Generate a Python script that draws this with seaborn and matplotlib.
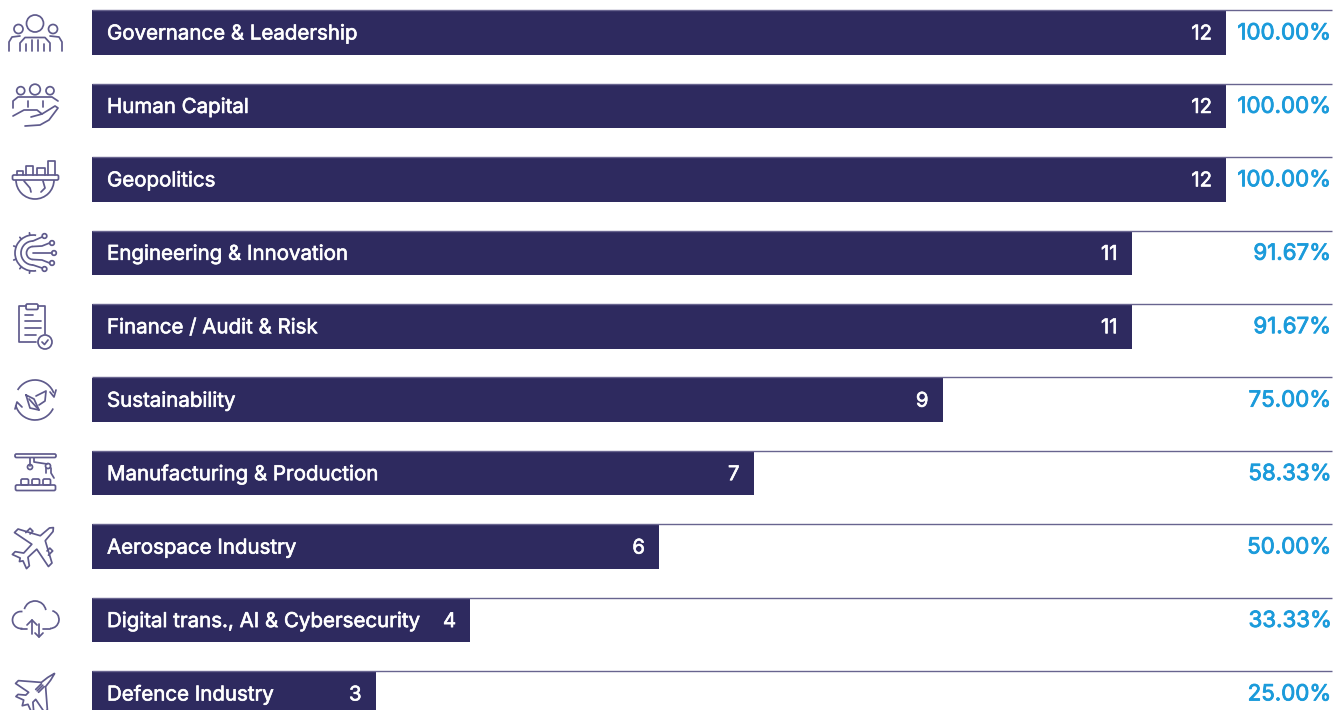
import numpy as np
import pandas as pd
import matplotlib
matplotlib.use("Agg")
import matplotlib.pyplot as plt
import matplotlib.patheffects as pe
from matplotlib.patches import Arc, Circle, FancyBboxPatch, Polygon
import seaborn as sns

categories = [
    "Governance & Leadership", "Human Capital", "Geopolitics",
    "Engineering & Innovation", "Finance / Audit & Risk", "Sustainability",
    "Manufacturing & Production", "Aerospace Industry",
    "Digital trans., AI & Cybersecurity", "Defence Industry",
]
counts = [12, 12, 12, 11, 11, 9, 7, 6, 4, 3]
shares = ["100.00%", "100.00%", "100.00%", "91.67%", "91.67%",
          "75.00%", "58.33%", "50.00%", "33.33%", "25.00%"]

NAVY = "#2e2a5f"
RULE = "#68648f"
BLUE = "#1b9bdb"
ICON = "#5f5b8c"

W, H = 1333, 710
LEFT, UNIT, FIRST, PITCH = 92.0, 94.5, 32.5, 73.45

sns.set_theme(style="white")
plt.rcParams["font.family"] = ["Inter", "DejaVu Sans"]

fig = plt.figure(figsize=(W / 100, H / 100), dpi=100, facecolor="white")
ax = fig.add_axes([LEFT / W, 0, (W - LEFT) / W, 1])

frame = pd.DataFrame({"category": categories, "count": counts})
sns.barplot(data=frame, y="category", x="count", color=NAVY, saturation=1,
            width=44.5 / PITCH, orient="h", linewidth=0, ax=ax)
ax.set_xlim(0, (W - LEFT) / UNIT)
ax.set_ylim((H - FIRST) / PITCH, -FIRST / PITCH)
ax.axis("off")

half = 22.3 / PITCH
heavy_white = [pe.withStroke(linewidth=0.45, foreground="white")]
heavy_blue = [pe.withStroke(linewidth=0.6, foreground=BLUE)]
for i, (name, n, share) in enumerate(zip(categories, counts, shares)):
    ax.plot([0, 1240 / UNIT], [i - half, i - half], color=RULE, lw=1.0,
            solid_capstyle="butt", zorder=4)
    ax.text(15 / UNIT, i + 0.027, name, color="white", fontsize=14.75,
            va="center", ha="left", zorder=5, path_effects=heavy_white)
    ax.text(n - 14 / UNIT, i + 0.027, str(n), color="white", fontsize=14.6,
            va="center", ha="right", zorder=5, path_effects=heavy_white)
    ax.text(1239.4 / UNIT, i + 0.012, share, color=BLUE, fontsize=16.05,
            va="center", ha="right", zorder=5, path_effects=heavy_blue)

# Outline pictograms to the left of the bars, on a pixel-scaled overlay.
ov = fig.add_axes([0, 0, 1, 1], facecolor="none")
ov.set_xlim(0, W)
ov.set_ylim(H, 0)
ov.axis("off")
LW = 1.25


def line(*pts):
    xs, ys = zip(*pts)
    ov.plot(xs, ys, color=ICON, lw=LW, solid_capstyle="round",
            solid_joinstyle="round")


def ring(x, y, r):
    ov.add_patch(Circle((x, y), r, fill=False, ec=ICON, lw=LW))


def arc(x, y, r, a, b):
    # Angles read counter-clockwise on screen; the overlay's y axis points down.
    ov.add_patch(Arc((x, y), 2 * r, 2 * r, theta1=-b, theta2=-a, ec=ICON, lw=LW))


def box(x, y, w, h):
    ov.add_patch(FancyBboxPatch((x, y), w, h, boxstyle="round,pad=0,rounding_size=1.5",
                                fill=False, ec=ICON, lw=LW))


def tilted(cx, cy, *pts):
    # Local (across, along) pairs, turned so "along" points up and to the right.
    return [(cx + (u + v) / np.sqrt(2), cy + (u - v) / np.sqrt(2)) for u, v in pts]


def mirrored(half_outline):
    return list(half_outline) + [(-u, v) for u, v in reversed(half_outline[:-1])]


# Governance
ring(35, 23.5, 8.5)
ring(18.5, 29, 4.5)
ring(53, 29, 4.5)
line((9, 51), (9, 42), (12, 37), (20, 36))
line((62, 51), (62, 42), (59, 37), (50, 36))
line((20, 51), (20, 43), (25, 37.5), (45, 37.5), (50, 43), (50, 51))
line((26, 51), (26, 44))
line((44, 51), (44, 44))
line((32, 51), (32, 40))
line((38, 51), (38, 40))

# Human capital
ring(20.7, 90.7, 4)
ring(35, 89.5, 5.3)
ring(50, 90.7, 4)
line((13, 108), (13, 101), (18, 97), (52, 97), (58, 101))
line((28, 107), (28, 101))
line((43, 107), (43, 101))
line((13, 116), (24, 110), (37, 110), (42, 114), (31, 117))
line((42, 114), (55, 106), (58, 108), (49, 120), (40, 125), (25, 126))

# Geopolitics
for x0, x1, top in [(17, 23, 171), (26, 33, 166), (37, 45, 168), (48, 55, 160.5)]:
    line((x0, 175), (x0, top), (x1, top), (x1, 175))
box(12.5, 175, 46, 5)
arc(35, 180, 19, 180, 360)
line((24, 181), (30, 188), (31, 192))
line((43, 181), (45, 188), (41, 192))

# Engineering
arc(33, 253, 18, 80, 280)
for t in np.deg2rad([100, 130, 160, 200, 230, 260]):
    line((33 + 18 * np.cos(t), 253 - 18 * np.sin(t)),
         (33 + 20.5 * np.cos(t), 253 - 20.5 * np.sin(t)))
arc(33, 253, 12, 90, 270)
arc(33, 253, 6.5, 90, 270)
for x, y in [(44.5, 236), (52, 243), (54, 253), (52, 263), (44.5, 269)]:
    ring(x, y, 2.3)
line((33, 241), (42, 237))
line((33, 246.5), (42, 246), (49.5, 243))
line((33, 253), (51.5, 253))
line((33, 259.5), (42, 260), (49.5, 263))
line((33, 265), (42, 268))

# Finance
line((26, 306), (19, 306), (19, 342), (36, 342))
line((38, 306), (45, 306), (45, 334))
box(26, 304, 12, 5.5)
line((25, 315), (33, 315))
line((25, 321), (41, 321))
line((25, 328), (41, 328))
line((25, 335), (36, 335))
ov.add_patch(Circle((45, 342), 7, fc="white", ec=ICON, lw=LW))
line((42, 342), (44.5, 344.5), (48, 340))

# Sustainability
arc(35, 400, 20, 20, 150)
arc(35, 400, 20, 195, 335)
line((50, 392), (54, 397), (56, 390))
line((15, 409), (17, 402), (22, 407))
line((26, 395), (34, 399), (39, 410), (30, 408), (26, 395))
line((36, 396), (46, 391), (45, 401), (39, 405))
line((29, 399), (39, 410))

# Manufacturing
box(15, 454, 41, 3.5)
line((30, 458), (30, 466))
line((34, 458), (34, 462), (47, 464))
ring(30, 467, 2.5)
ring(48, 466, 2.5)
line((46, 468), (46, 473))
line((51, 468), (51, 473), (54, 478))
box(21, 479, 7.5, 6)
box(32, 479, 7.5, 6)
box(43, 479, 7.5, 6)
box(15.5, 485, 40, 5.5)

# Aerospace
plane = [(0, 26), (2.5, 23), (3.5, 11), (24, 0), (24, -5), (3.5, -1),
         (3, -13), (10, -18), (10, -22), (2, -19), (0, -22)]
ov.add_patch(Polygon(tilted(35, 546, *mirrored(plane)), closed=True, fill=False,
                     ec=ICON, lw=LW, joinstyle="round"))
for s in (-1, 1):
    line(*tilted(35, 546, (s * 12, 5), (s * 12, 9), (s * 16, 9), (s * 16, 3)))

# Digital
arc(21, 620, 8.5, 80, 280)
arc(35, 612, 11, 10, 165)
arc(50, 619.5, 9, -90, 75)
line((21, 628.5), (27, 628.5))
line((43, 628.5), (50, 628.5))
line((32, 634), (32, 620))
line((27, 625), (32, 620), (37, 625))
line((39, 624), (39, 637))
line((35, 633), (39, 637), (43, 633))

# Defence
jet = [(0, 28), (2, 20), (3, 12), (20.5, -3), (20.5, -7), (5, -4), (5, -8),
       (11, -13), (11, -16), (3, -13), (0, -18)]
ov.add_patch(Polygon(tilted(35, 693, *mirrored(jet)), closed=True, fill=False,
                     ec=ICON, lw=LW, joinstyle="round", clip_on=True))
for u in (-2, 0, 2):
    line(*tilted(35, 693, (u, 3), (u, 11)))

fig.savefig("out.png", dpi=100)
